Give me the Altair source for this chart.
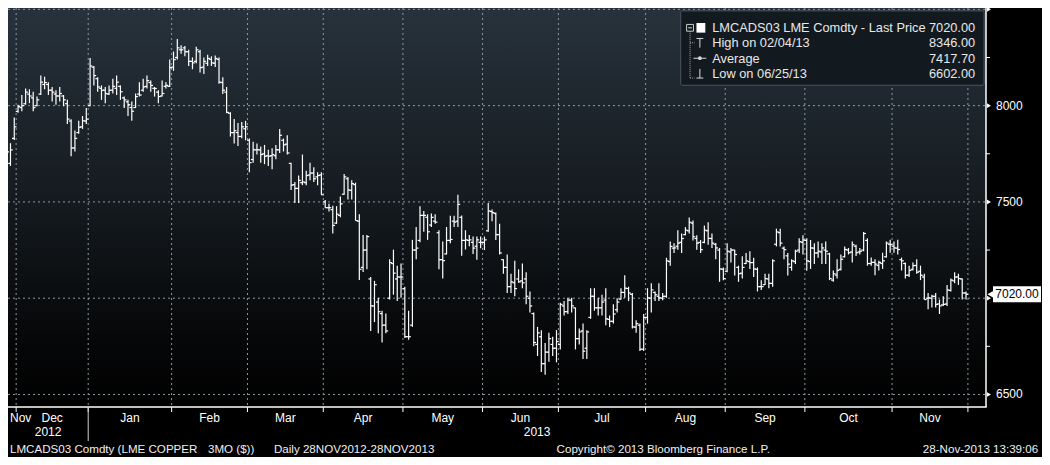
import altair as alt
import pandas as pd

# ---------------- data ----------------
holidays = ["2012-12-25", "2012-12-26", "2013-01-01", "2013-03-29",
            "2013-04-01", "2013-05-06", "2013-05-27", "2013-08-26"]
dates = [d for d in pd.bdate_range("2012-11-28", "2013-11-28")
         if d.strftime("%Y-%m-%d") not in holidays]

open_ = [
    7700, 7700, 7830, 7970, 7990, 8010, 8060, 8040, 8000, 8060,
    8110, 8110, 8080, 8060, 8050, 8050, 8010, 7920, 7780, 7860,
    7890, 7920, 8000, 8200, 8140, 8090, 8080, 8060, 8080, 8090,
    8100, 8040, 8020, 7990, 7990, 8060, 8080, 8100, 8120, 8090,
    8070, 8050, 8100, 8100, 8200, 8250, 8290, 8300, 8280, 8230,
    8230, 8280, 8200, 8220, 8240, 8220, 8240, 8120, 8070, 7960,
    7860, 7860, 7840, 7880, 7820, 7720, 7770, 7770, 7750, 7740,
    7740, 7740, 7770, 7820, 7800, 7700, 7590, 7570, 7600, 7600,
    7640, 7650, 7630, 7640, 7500, 7470, 7460, 7390, 7430, 7540,
    7620, 7560, 7590, 7400, 7160, 7250, 7100, 6960, 6980, 6920,
    6860, 7000, 7180, 7100, 7110, 7050, 6800, 6860, 7250, 7300,
    7430, 7420, 7380, 7400, 7340, 7200, 7230, 7300, 7400, 7400,
    7420, 7300, 7300, 7290, 7270, 7290, 7290, 7350, 7450, 7440,
    7330, 7200, 7160, 7060, 7080, 7100, 7090, 7100, 7000, 6920,
    6760, 6800, 6660, 6720, 6760, 6740, 6760, 6960, 6930, 6990,
    6950, 6790, 6830, 6740, 6900, 7010, 6950, 6950, 6990, 6890,
    6880, 6940, 6995, 7030, 7050, 7020, 6850, 6860, 6735, 6900,
    7000, 7030, 7010, 7000, 7010, 7190, 7260, 7270, 7290, 7330,
    7350, 7390, 7310, 7290, 7290, 7350, 7310, 7280, 7250, 7150,
    7140, 7240, 7250, 7160, 7130, 7180, 7190, 7185, 7150, 7060,
    7070, 7100, 7077, 7280, 7340, 7260, 7220, 7160, 7190, 7250,
    7290, 7300, 7190, 7260, 7235, 7240, 7250, 7230, 7094, 7120,
    7150, 7215, 7250, 7240, 7270, 7240, 7250, 7300, 7180, 7186,
    7170, 7180, 7215, 7280, 7270, 7260, 7200, 7180, 7120, 7150,
    7170, 7140, 7110, 7000, 7000, 7010, 6970, 6965, 6970, 7040,
    7090, 7110, 7100, 7027,
]
high = [
    7790, 7805, 7938, 8005, 8055, 8089, 8085, 8072, 8047, 8156,
    8150, 8122, 8097, 8080, 8097, 8055, 8030, 7929, 7871, 7921,
    7946, 7988, 8247, 8206, 8147, 8105, 8097, 8105, 8139, 8156,
    8105, 8047, 8030, 8022, 8063, 8122, 8139, 8156, 8130, 8097,
    8080, 8130, 8122, 8239, 8281, 8346, 8314, 8310, 8290, 8250,
    8306, 8290, 8250, 8264, 8256, 8260, 8250, 8147, 8097, 7965,
    7930, 7910, 7915, 7921, 7829, 7813, 7804, 7788, 7796, 7771,
    7779, 7796, 7879, 7829, 7846, 7704, 7604, 7637, 7746, 7662,
    7704, 7680, 7654, 7654, 7510, 7490, 7480, 7478, 7528, 7645,
    7629, 7612, 7600, 7436, 7328, 7328, 7110, 7090, 7002, 6935,
    6920, 7202, 7252, 7169, 7180, 7060, 6935, 7303, 7370, 7478,
    7453, 7436, 7440, 7436, 7353, 7294, 7370, 7428, 7428, 7537,
    7430, 7353, 7328, 7320, 7320, 7320, 7320, 7495, 7460, 7445,
    7386, 7202, 7227, 7127, 7194, 7150, 7180, 7135, 7035, 6926,
    6851, 6834, 6767, 6820, 6800, 6834, 6976, 6985, 7002, 7002,
    6951, 6843, 6868, 6834, 7052, 7052, 7002, 7018, 7052, 6910,
    6968, 7000, 7052, 7119, 7060, 7027, 6885, 6868, 6918, 7052,
    7077, 7035, 7077, 7027, 7210, 7294, 7286, 7353, 7336, 7369,
    7419, 7403, 7327, 7302, 7378, 7394, 7336, 7286, 7261, 7160,
    7286, 7261, 7252, 7169, 7218, 7235, 7244, 7210, 7160, 7093,
    7127, 7127, 7202, 7361, 7361, 7269, 7235, 7202, 7252, 7311,
    7327, 7311, 7302, 7286, 7294, 7286, 7294, 7236, 7144, 7202,
    7227, 7269, 7261, 7294, 7278, 7261, 7344, 7311, 7211, 7202,
    7194, 7236, 7294, 7303, 7294, 7303, 7211, 7186, 7169, 7186,
    7202, 7169, 7127, 7027, 7018, 7027, 6993, 7010, 7069, 7102,
    7135, 7127, 7102, 7035,
]
low = [
    7680, 7687, 7821, 7963, 7971, 8005, 8013, 7971, 7997, 8055,
    8085, 8055, 8022, 8005, 8022, 7997, 7904, 7737, 7762, 7854,
    7879, 7904, 7997, 8105, 8072, 8030, 8013, 8055, 8063, 8055,
    8030, 7988, 7946, 7921, 7988, 8047, 8072, 8089, 8072, 8047,
    8013, 8047, 8089, 8097, 8181, 8239, 8270, 8256, 8206, 8189,
    8220, 8172, 8164, 8206, 8206, 8200, 8114, 8060, 7960, 7840,
    7804, 7790, 7830, 7820, 7654, 7704, 7746, 7704, 7696, 7687,
    7670, 7721, 7754, 7762, 7746, 7562, 7495, 7495, 7587, 7587,
    7612, 7604, 7587, 7537, 7470, 7450, 7336, 7386, 7420, 7537,
    7512, 7512, 7403, 7094, 7136, 7150, 6830, 6876, 6818, 6770,
    6818, 6993, 7018, 6985, 7002, 6793, 6784, 6851, 7202, 7290,
    7345, 7303, 7370, 7386, 7150, 7102, 7227, 7286, 7370, 7370,
    7220, 7253, 7270, 7230, 7200, 7260, 7250, 7345, 7400, 7302,
    7227, 7127, 7027, 7027, 7010, 7080, 7052, 6968, 6926, 6751,
    6700, 6617, 6602, 6670, 6700, 6667, 6734, 6910, 6918, 6926,
    6734, 6760, 6684, 6684, 6893, 6935, 6910, 6910, 6859, 6850,
    6868, 6926, 6993, 7002, 6985, 6843, 6820, 6726, 6726, 6868,
    6926, 6985, 6985, 6990, 7002, 7169, 7235, 7252, 7235, 7327,
    7336, 7300, 7252, 7235, 7286, 7277, 7261, 7202, 7085, 7093,
    7135, 7185, 7118, 7085, 7102, 7177, 7152, 7110, 7035, 7043,
    7068, 7052, 7060, 7269, 7269, 7202, 7118, 7143, 7177, 7235,
    7227, 7143, 7152, 7177, 7210, 7177, 7177, 7094, 7085, 7102,
    7144, 7211, 7227, 7186, 7219, 7227, 7244, 7169, 7169, 7119,
    7144, 7152, 7211, 7236, 7236, 7227, 7144, 7102, 7110, 7144,
    7127, 7094, 6993, 6943, 6952, 6952, 6918, 6960, 6960, 7035,
    7077, 7069, 6993, 6993,
]
close = [
    7760, 7770, 7890, 7995, 8000, 8070, 8050, 7990, 8030, 8122,
    8120, 8080, 8070, 8050, 8063, 8030, 7930, 7780, 7830, 7888,
    7921, 7930, 8206, 8156, 8097, 8080, 8063, 8080, 8100, 8122,
    8072, 8030, 8005, 7971, 8047, 8055, 8097, 8130, 8105, 8089,
    8047, 8063, 8105, 8197, 8239, 8300, 8290, 8280, 8230, 8222,
    8290, 8197, 8230, 8245, 8222, 8245, 8122, 8080, 7965, 7860,
    7870, 7840, 7890, 7890, 7704, 7771, 7771, 7746, 7737, 7737,
    7746, 7771, 7846, 7796, 7754, 7587, 7570, 7612, 7604, 7637,
    7650, 7620, 7637, 7537, 7470, 7470, 7378, 7436, 7490, 7630,
    7562, 7595, 7403, 7150, 7250, 7320, 6960, 7070, 6930, 6860,
    6830, 7185, 7130, 7110, 7110, 6800, 6800, 7250, 7260, 7430,
    7430, 7345, 7420, 7395, 7200, 7195, 7300, 7305, 7395, 7487,
    7300, 7303, 7303, 7260, 7303, 7290, 7303, 7453, 7445, 7330,
    7235, 7160, 7060, 7085, 7050, 7085, 7080, 7010, 6960, 6770,
    6820, 6660, 6720, 6790, 6740, 6775, 6968, 6930, 6990, 6960,
    6790, 6825, 6725, 6825, 7010, 6950, 6950, 6980, 6893, 6880,
    6918, 6980, 7030, 7052, 7027, 6851, 6868, 6735, 6900, 7002,
    7043, 7018, 7002, 7010, 7194, 7269, 7261, 7286, 7310, 7353,
    7394, 7319, 7286, 7252, 7353, 7311, 7286, 7261, 7152, 7102,
    7244, 7250, 7227, 7127, 7160, 7194, 7185, 7152, 7060, 7060,
    7102, 7077, 7194, 7344, 7286, 7252, 7177, 7194, 7244, 7294,
    7302, 7194, 7261, 7235, 7244, 7261, 7244, 7102, 7127, 7144,
    7202, 7253, 7236, 7278, 7236, 7244, 7336, 7180, 7186, 7177,
    7186, 7194, 7286, 7278, 7261, 7253, 7194, 7119, 7144, 7169,
    7135, 7119, 6993, 7002, 7010, 6968, 6960, 6968, 7043, 7094,
    7110, 7102, 7027, 7020,
]

grid_values = [6500, 7000, 7500, 8000, 8500]
minor_values = [6750, 7250, 7750, 8250]
ylabel_values = [6500, 7500, 8000]

legend_labels = ["LMCADS03 LME Comdty - Last Price", "High on 02/04/13",
                 "Average", "Low on 06/25/13"]
legend_values = ["7020.00", "8346.00", "7417.70", "6602.00"]

footer_left = ["LMCADS03 Comdty (LME COPPER", "3MO ($))", "Daily 28NOV2012-28NOV2013"]
footer_mid = "Copyright\u00a9 2013 Bloomberg Finance L.P."
footer_right = "28-Nov-2013 13:39:06"

# ---------------- layout constants ----------------
W, H = 978, 399
SX, SY = W / 993.0, H / 413.0
XMIN, XMAX = 0.35, 258.27
YMIN, YMAX = 6435, 8507
FONT = "Liberation Sans, Arial, Helvetica, sans-serif"
WHITE = "#ffffff"
FOOT = 11.6

def R(v):
    return v * SX

def D(v):
    return v * SY

n = min(len(dates), len(open_), len(high), len(low), len(close))
df = pd.DataFrame({
    "i": list(range(n)),
    "o": open_[:n], "h": high[:n], "l": low[:n], "c": close[:n],
})

months = [d.strftime("%b") for d in dates[:n]]
bounds = [k - 0.5 for k in range(1, n) if dates[k].month != dates[k - 1].month] + [n - 0.5]
seg_start = [XMIN] + bounds[:-1]
seg_end = bounds
seg_name = [months[0]] + [months[int(b + 0.5)] for b in bounds[:-1]]
month_df = pd.DataFrame({
    "pos": [(a + b) / 2 for a, b in zip(seg_start, seg_end)],
    "name": seg_name,
})
first_month_df = month_df.iloc[:1]
rest_month_df = month_df.iloc[1:]

year_bounds = [k - 0.5 for k in range(1, n) if dates[k].year != dates[k - 1].year]
yb = year_bounds[0]
year_df = pd.DataFrame({
    "pos": [(XMIN + yb) / 2, (yb + XMAX) / 2],
    "name": [str(dates[0].year), str(dates[-1].year)],
})
yearsep_df = pd.DataFrame({"b": [yb]})
bounds_df = pd.DataFrame({"b": bounds})

xs = alt.Scale(domain=[XMIN, XMAX], nice=False, zero=False)
ys = alt.Scale(domain=[YMIN, YMAX], nice=False, zero=False)

one = pd.DataFrame({"k": [0]})

# ---------------- layers ----------------
bg = alt.Chart(one).mark_rect(
    strokeWidth=0,
    fill=alt.Gradient(
        gradient="linear", x1=0, x2=0, y1=0, y2=1,
        stops=[alt.GradientStop(color="#27323c", offset=0),
               alt.GradientStop(color="#161c21", offset=0.45),
               alt.GradientStop(color="#050607", offset=0.85),
               alt.GradientStop(color="#000000", offset=1)],
    ),
).encode(x=alt.value(0), x2=alt.value(W), y=alt.value(0), y2=alt.value(H))

hgrid = alt.Chart(pd.DataFrame({"v": grid_values})).mark_rule(
    color="#8e98a2", strokeDash=[2, 3], strokeWidth=1
).encode(y=alt.Y("v:Q", scale=ys, axis=None), x=alt.value(0), x2=alt.value(W))

vgrid = alt.Chart(bounds_df).mark_rule(
    color="#8e98a2", strokeDash=[2, 3], strokeWidth=1, clip=True
).encode(x=alt.X("b:Q", scale=xs, axis=None), y=alt.value(0), y2=alt.value(H))

hl = alt.Chart(df).mark_rule(color=WHITE, strokeWidth=1.2, clip=True).encode(
    x=alt.X("i:Q", scale=xs, axis=None),
    y=alt.Y("l:Q", scale=ys, axis=None),
    y2="h:Q",
)
op = alt.Chart(df).transform_calculate(xl="datum.i - 0.6").mark_rule(
    color=WHITE, strokeWidth=1.2, clip=True
).encode(
    x=alt.X("xl:Q", scale=xs, axis=None), x2="i:Q",
    y=alt.Y("o:Q", scale=ys, axis=None),
)
cl = alt.Chart(df).transform_calculate(xr="datum.i + 0.6").mark_rule(
    color=WHITE, strokeWidth=1.2, clip=True
).encode(
    x=alt.X("i:Q", scale=xs, axis=None), x2="xr:Q",
    y=alt.Y("c:Q", scale=ys, axis=None),
)

axis_bottom = alt.Chart(one).mark_rule(color=WHITE, strokeWidth=1.5).encode(
    x=alt.value(0), x2=alt.value(W + 0.75), y=alt.value(H))
axis_right = alt.Chart(one).mark_rule(color=WHITE, strokeWidth=1.5).encode(
    x=alt.value(W), y=alt.value(0), y2=alt.value(H))

major_ticks = alt.Chart(pd.DataFrame({"v": grid_values})).mark_point(
    shape="triangle-right", filled=True, size=22, color=WHITE, opacity=1
).encode(y=alt.Y("v:Q", scale=ys, axis=None), x=alt.value(W + 3))
minor_ticks = alt.Chart(pd.DataFrame({"v": minor_values})).mark_rule(
    color=WHITE, strokeWidth=1
).encode(y=alt.Y("v:Q", scale=ys, axis=None), x=alt.value(W), x2=alt.value(W + 4))
ylabels = alt.Chart(pd.DataFrame({"v": ylabel_values})).mark_text(
    align="left", baseline="middle", font=FONT, fontSize=12, color=WHITE
).encode(y=alt.Y("v:Q", scale=ys, axis=None), x=alt.value(W + 10),
         text=alt.Text("v:Q", format="d"))

last_df = pd.DataFrame({"v": [close[n - 1]], "t": [f"{close[n - 1]:.2f}"]})
last_box = alt.Chart(last_df).mark_rect(color=WHITE, yOffset=-8, y2Offset=8).encode(
    y=alt.Y("v:Q", scale=ys, axis=None), y2="v:Q",
    x=alt.value(W + 7), x2=alt.value(W + 55))
last_arrow = alt.Chart(last_df).mark_point(
    shape="triangle-left", filled=True, size=70, color=WHITE, opacity=1
).encode(y=alt.Y("v:Q", scale=ys, axis=None), x=alt.value(W + 5))
last_text = alt.Chart(last_df).mark_text(
    align="center", baseline="middle", font=FONT, fontSize=12, color="#000000"
).encode(y=alt.Y("v:Q", scale=ys, axis=None), x=alt.value(W + 31), text="t:N")

month_ticks = alt.Chart(bounds_df).mark_rule(color=WHITE, strokeWidth=1).encode(
    x=alt.X("b:Q", scale=xs, axis=None), y=alt.value(H), y2=alt.value(H + 5))
year_sep = alt.Chart(yearsep_df).mark_rule(color="#cfcfcf", strokeWidth=1).encode(
    x=alt.X("b:Q", scale=xs, axis=None), y=alt.value(H), y2=alt.value(H + 34))
month_first = alt.Chart(first_month_df).mark_text(
    align="left", baseline="middle", font=FONT, fontSize=12, color=WHITE
).encode(x=alt.value(2), y=alt.value(H + 11), text="name:N")
month_text = alt.Chart(rest_month_df).mark_text(
    align="center", baseline="middle", font=FONT, fontSize=12, color=WHITE
).encode(x=alt.X("pos:Q", scale=xs, axis=None), y=alt.value(H + 11), text="name:N")
year_text = alt.Chart(year_df).mark_text(
    align="center", baseline="middle", font=FONT, fontSize=12, color=WHITE
).encode(x=alt.X("pos:Q", scale=xs, axis=None), y=alt.value(H + 25), text="name:N")

footer_layers = []
for txt, fx in zip(footer_left, [2, 203, 270]):
    footer_layers.append(alt.Chart(one).mark_text(
        align="left", baseline="middle", font=FONT, fontSize=FOOT, color="#f0f0f0",
        text=txt).encode(x=alt.value(R(fx)), y=alt.value(H + 43)))
footer_layers.append(alt.Chart(one).mark_text(
    align="left", baseline="middle", font=FONT, fontSize=FOOT, color="#f0f0f0",
    text=footer_mid).encode(x=alt.value(R(557)), y=alt.value(H + 43)))
footer_layers.append(alt.Chart(one).mark_text(
    align="right", baseline="middle", font=FONT, fontSize=FOOT, color="#f0f0f0",
    text=footer_right).encode(x=alt.value(R(1046)), y=alt.value(H + 43)))

# legend box
leg = []
leg.append(alt.Chart(one).mark_rect(
    fill="#131a1f", stroke="#4c545c", strokeWidth=1, cornerRadius=2
).encode(x=alt.value(R(683)), x2=alt.value(R(991)), y=alt.value(D(3)), y2=alt.value(D(80))))

def hrule(x1, x2, y, color="#d8d8d8", dash=None, w=1):
    kw = dict(color=color, strokeWidth=w)
    if dash:
        kw["strokeDash"] = dash
    return alt.Chart(one).mark_rule(**kw).encode(
        x=alt.value(R(x1)), x2=alt.value(R(x2)), y=alt.value(D(y)))

def vrule(x, y1, y2, color="#d8d8d8", dash=None, w=1):
    kw = dict(color=color, strokeWidth=w)
    if dash:
        kw["strokeDash"] = dash
    return alt.Chart(one).mark_rule(**kw).encode(
        x=alt.value(R(x)), y=alt.value(D(y1)), y2=alt.value(D(y2)))

# tree connector
leg.append(vrule(692.5, 24, 72.5, color="#a8a8a8", dash=[1, 1]))
leg.append(hrule(692.5, 697, 36, color="#a8a8a8", dash=[1, 1]))
leg.append(hrule(692.5, 697, 72.5, color="#a8a8a8", dash=[1, 1]))
# collapse box and white square
leg.append(alt.Chart(one).mark_rect(fill="#131a1f", stroke="#c8c8c8", strokeWidth=1).encode(
    x=alt.value(R(689)), x2=alt.value(R(696)), y=alt.value(D(17)), y2=alt.value(D(24))))
leg.append(hrule(690.5, 694.5, 20.5, color="#c8c8c8"))
leg.append(alt.Chart(one).mark_rect(fill=WHITE).encode(
    x=alt.value(R(699)), x2=alt.value(R(708)), y=alt.value(D(15.5)), y2=alt.value(D(25.5))))
# high icon
leg.append(hrule(699, 706, 31.5))
leg.append(vrule(702.5, 31.5, 41))
# average icon
leg.append(hrule(696, 709, 52))
leg.append(alt.Chart(one).mark_point(filled=True, size=14, color="#d8d8d8", opacity=1).encode(
    x=alt.value(R(702.5)), y=alt.value(D(52))))
# low icon
leg.append(vrule(702.5, 63, 72.5))
leg.append(hrule(699, 706, 72.5))

row_y = [20.7, 36, 52.3, 68.3]
for lab, val, yy in zip(legend_labels, legend_values, row_y):
    leg.append(alt.Chart(one).mark_text(
        align="left", baseline="middle", font=FONT, fontSize=12.8, color="#e8e8e8", text=lab
    ).encode(x=alt.value(R(715)), y=alt.value(D(yy))))
    leg.append(alt.Chart(one).mark_text(
        align="right", baseline="middle", font=FONT, fontSize=12.8, color="#e8e8e8", text=val
    ).encode(x=alt.value(R(982)), y=alt.value(D(yy))))

layers = [bg, hgrid, vgrid, hl, op, cl, axis_bottom, axis_right, major_ticks,
          minor_ticks, ylabels, last_arrow, last_box, last_text, month_ticks, year_sep,
          month_first, month_text, year_text] + footer_layers + leg

chart = alt.layer(*layers).properties(
    width=W, height=H,
    padding={"left": 0, "top": 0, "right": 56, "bottom": 50},
    autosize=alt.AutoSizeParams(type="none"),
    background="#000000",
).configure_view(strokeWidth=0)

chart.save("out.html", embed_options={"renderer": "svg", "actions": False})
